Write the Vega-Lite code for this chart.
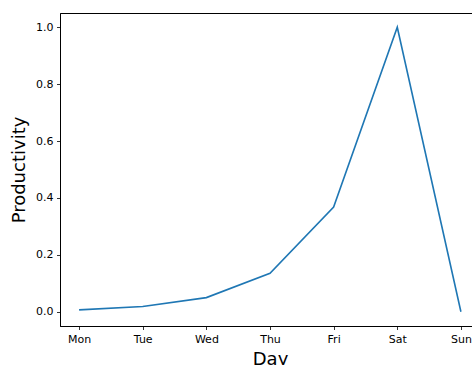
{
  "$schema": "https://vega.github.io/schema/vega-lite/v6.json",
  "autosize": "none",
  "padding": {"left": 60, "top": 13, "right": 0, "bottom": 39},
  "width": 420,
  "height": 313,
  "background": "white",
  "config": {
    "font": "DejaVu Sans",
    "view": {"stroke": "#000000", "strokeWidth": 1},
    "axis": {
      "grid": false,
      "domainColor": "#000000",
      "domainWidth": 1,
      "tickColor": "#000000",
      "tickSize": 3.5,
      "tickWidth": 0.8,
      "labelFont": "DejaVu Sans",
      "labelFontSize": 11,
      "labelColor": "#000000",
      "labelPadding": 3.5,
      "titleFont": "DejaVu Sans",
      "titleFontSize": 18,
      "titleFontWeight": "normal",
      "titleColor": "#000000"
    }
  },
  "data": {
    "values": [
      {"day": "Mon", "productivity": 0.0067},
      {"day": "Tue", "productivity": 0.0183},
      {"day": "Wed", "productivity": 0.0498},
      {"day": "Thu", "productivity": 0.1353},
      {"day": "Fri", "productivity": 0.3679},
      {"day": "Sat", "productivity": 1.0},
      {"day": "Sun", "productivity": 0.0}
    ]
  },
  "mark": {"type": "line", "color": "#1f77b4", "strokeWidth": 1.6},
  "encoding": {
    "x": {
      "field": "day",
      "type": "ordinal",
      "sort": null,
      "scale": {"type": "point", "padding": 0.3},
      "axis": {"title": "Day", "labelAngle": 0, "titlePadding": 6}
    },
    "y": {
      "field": "productivity",
      "type": "quantitative",
      "scale": {"domain": [-0.05, 1.05], "nice": false, "zero": false},
      "axis": {"title": "Productivity", "values": [0, 0.2, 0.4, 0.6, 0.8, 1.0], "format": ".1f", "titlePadding": 7}
    }
  }
}
